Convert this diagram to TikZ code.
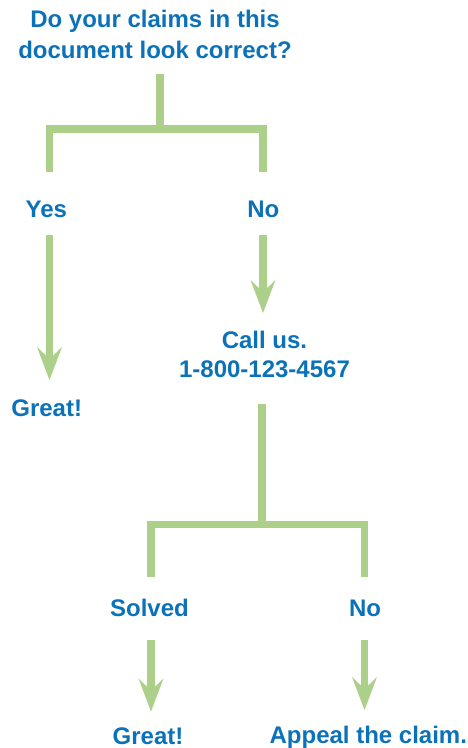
\documentclass[tikz,border=0pt]{standalone}
\usepackage{fontspec}
\setmainfont{Liberation Sans}
\usetikzlibrary{arrows.meta}
\definecolor{txtblue}{RGB}{11,114,185}
\definecolor{brgreen}{RGB}{172,208,138}
\begin{document}
\begin{tikzpicture}[x=1pt,y=-1pt,
  lbl/.style={font=\bfseries\fontsize{24}{30}\selectfont, text=txtblue, inner sep=0pt, anchor=base},
  ttl/.style={lbl, align=center, anchor=north},
  br/.style={draw=brgreen, line width=7.5pt},
  arr/.style={br, -{Stealth[length=33pt,width=25pt,inset=12pt,line width=0pt]}}]
\useasboundingbox (0,0) rectangle (468,748);

% text nodes
\node[ttl, font=\bfseries\fontsize{24}{31}\selectfont] (q) at (155,9.8) {Do your claims in this\\document look correct?};
\node[lbl] (yes) at (46.3,217.3) {Yes};
\node[lbl] (no1) at (263.3,217.3) {No};
\node[ttl, font=\bfseries\fontsize{24}{29}\selectfont] (call) at (264.5,331.1) {Call us.\\1-800-123-4567};
\node[lbl] (great1) at (46.7,416.7) {Great!};
\node[lbl] (solved) at (149.5,616.7) {Solved};
\node[lbl] (no2) at (365,616.7) {No};
\node[lbl] (great2) at (148,744) {Great!};
\node[lbl] (appeal) at (368.3,743.3) {Appeal the claim.};

% connector points
\coordinate (s1) at (160,74);
\coordinate (j1) at (160,129);
\coordinate (l1) at (49.5,172);
\coordinate (r1) at (263,172);
\coordinate (ya) at (49.5,235);
\coordinate (yb) at (49.5,380);
\coordinate (na) at (263,235);
\coordinate (nb) at (263,313);
\coordinate (s2) at (262,404);
\coordinate (j2) at (262,524.5);
\coordinate (l2) at (151,577);
\coordinate (r2) at (364.5,577);
\coordinate (sa) at (151,640);
\coordinate (sb) at (151,711.5);
\coordinate (n2a) at (364.5,640);
\coordinate (n2b) at (364.5,710);

% branches
\draw[br] (s1) -- (j1);
\draw[br] (l1) |- (j1) -| (r1);
\draw[arr] (ya) -- (yb);
\draw[arr] (na) -- (nb);
\draw[br] (s2) -- (j2);
\draw[br] (l2) |- (j2) -| (r2);
\draw[arr] (sa) -- (sb);
\draw[arr] (n2a) -- (n2b);
\end{tikzpicture}
\end{document}
